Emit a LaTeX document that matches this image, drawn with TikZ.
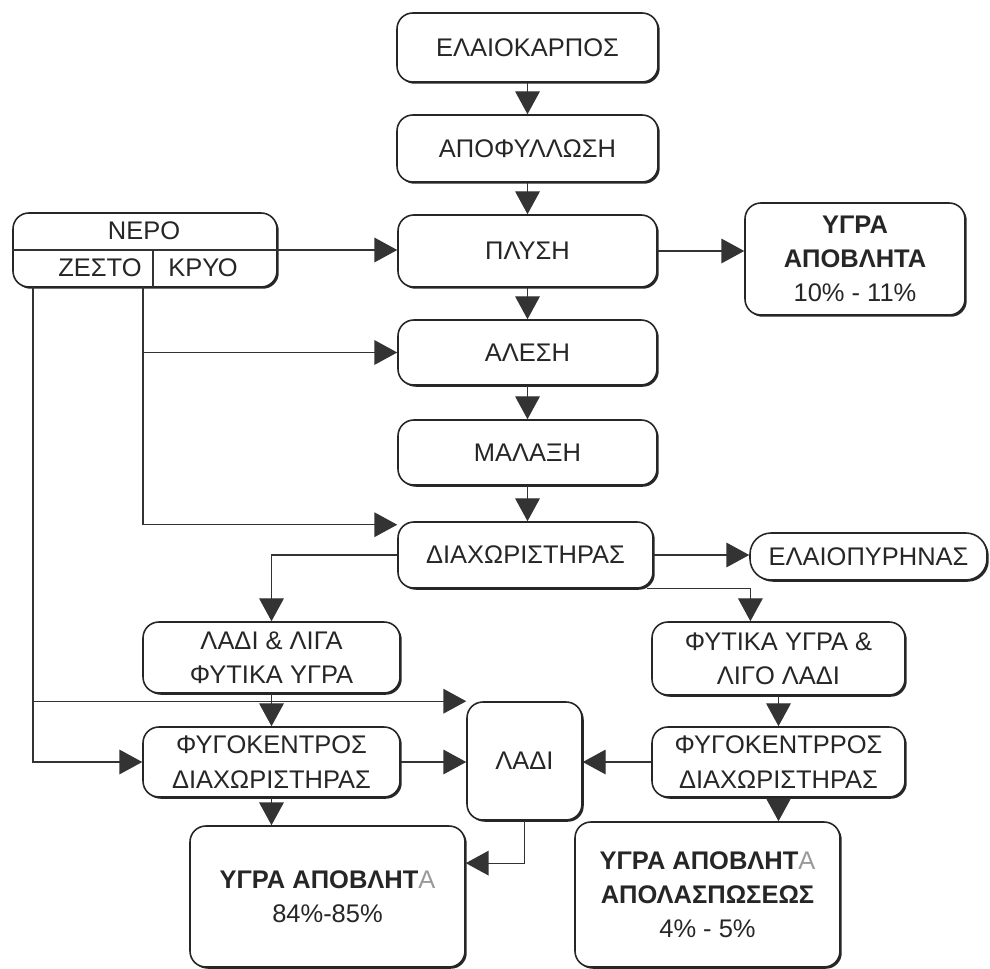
\documentclass[tikz,border=0pt]{standalone}
\usepackage{fontspec}
\setmainfont{Liberation Sans}
\usetikzlibrary{arrows.meta, shadows}

\begin{document}
\begin{tikzpicture}[x=0.02cm, y=-0.02cm,
  lbl/.style={font=\fontsize{14.5}{19.5}\selectfont, text=black!85},
  box/.style={lbl, draw=black!85, line width=0.9pt, rounded corners=9pt, fill=white, align=center,
    drop shadow={shadow xshift=1pt, shadow yshift=-1pt, opacity=1, fill=black!85}},
  arr/.style={draw=black!80, line width=0.7pt, -{Triangle[length=13pt, width=14pt]}},
  lnk/.style={draw=black!80, line width=0.7pt}]
\useasboundingbox (0,0) rectangle (990,969);
% Main line
\node[box, minimum width=5.22cm, minimum height=1.38cm] (elaio) at (527.5,47.5) {ΕΛΑΙΟΚΑΡΠΟΣ};
\node[box, minimum width=5.22cm, minimum height=1.34cm] (apof) at (527.5,148.5) {ΑΠΟΦΥΛΛΩΣΗ};
\node[box, minimum width=5.18cm, minimum height=1.44cm] (plysi) at (527.5,251) {ΠΛΥΣΗ};
\node[box, minimum width=4.4cm, minimum height=2.24cm] (ygra1) at (855,259) {\textbf{ΥΓΡΑ}\\\textbf{ΑΠΟΒΛΗΤΑ}\\10\% - 11\%};
\node[box, minimum width=5.18cm, minimum height=1.3cm] (alesi) at (527.5,352.5) {ΑΛΕΣΗ};
\node[box, minimum width=5.18cm, minimum height=1.3cm] (malaxi) at (527.5,452.5) {ΜΑΛΑΞΗ};
\node[box, minimum width=5.1cm, minimum height=1.32cm] (diax) at (525.5,555) {ΔΙΑΧΩΡΙΣΤΗΡΑΣ};
\node[box, minimum width=4.74cm, minimum height=0.94cm, rounded corners=12pt] (elaiop) at (868.5,556.5) {ΕΛΑΙΟΠΥΡΗΝΑΣ};
% Water
\node[box, minimum width=5.28cm, minimum height=1.48cm] (nero) at (145,250) {};
\node[lbl] (neroT) at (144,231) {ΝΕΡΟ};
\node[lbl] (zesto) at (100,268) {ΖΕΣΤΟ};
\node[lbl] (kryo) at (203,268) {ΚΡΥΟ};
\draw[lnk] (nero.west) -- (nero.east);
\draw[lnk] (153,250) -- (153,287);
\coordinate (hot) at (33,287);
\coordinate (cold) at (143,287);
% Two branches
\node[box, minimum width=5.14cm, minimum height=1.42cm] (ladiliga) at (271.5,657.5) {ΛΑΔΙ \& ΛΙΓΑ\\ΦΥΤΙΚΑ ΥΓΡΑ};
\node[box, minimum width=5.06cm, minimum height=1.46cm] (fytika) at (778.5,658.5) {ΦΥΤΙΚΑ ΥΓΡΑ \&\\ΛΙΓΟ ΛΑΔΙ};
\node[box, minimum width=5.14cm, minimum height=1.4cm] (fygoL) at (271.5,762) {ΦΥΓΟΚΕΝΤΡΟΣ\\ΔΙΑΧΩΡΙΣΤΗΡΑΣ};
\node[box, minimum width=2.3cm, minimum height=2.36cm] (ladi) at (524.5,761) {ΛΑΔΙ};
\node[box, minimum width=5.06cm, minimum height=1.4cm] (fygoR) at (778.5,762) {ΦΥΓΟΚΕΝΤΡΡΟΣ\\ΔΙΑΧΩΡΙΣΤΗΡΑΣ};
\node[box, minimum width=5.5cm, minimum height=2.82cm] (ygra2) at (327.5,896.5) {\textbf{ΥΓΡΑ ΑΠΟΒΛΗΤ}{\color{black!40}Α}\\84\%-85\%};
\node[box, minimum width=5.3cm, minimum height=2.9cm] (ygra3) at (707.5,894.5) {\textbf{ΥΓΡΑ ΑΠΟΒΛΗΤ}{\color{black!40}Α}\\\textbf{ΑΠΟΛΑΣΠΩΣΕΩΣ}\\4\% - 5\%};
% Arrows
\draw[arr] (elaio) -- (apof);
\draw[arr] (apof) -- (plysi);
\draw[arr] (plysi) -- (alesi);
\draw[arr] (alesi) -- (malaxi);
\draw[arr] (malaxi.south) -- (malaxi.south |- diax.north);
\draw[arr] (nero.east) -- (nero.east -| plysi.west);
\draw[arr] (plysi.east) -- (plysi.east -| ygra1.west);
\draw[arr] (cold) |- ([yshift=-2pt]diax.north west);
\draw[arr] (cold |- alesi.west) -- (alesi.west);
\draw[arr] (hot) |- (fygoL.west);
\draw[arr] (hot |- ladi.north west) -- (ladi.north west);
\draw[arr] (diax.east) -- (diax.east -| elaiop.west);
\draw[arr] (diax.west) -| (ladiliga.north);
\draw[arr] ([xshift=-4pt]diax.south east) -| ([xshift=-16pt]fytika.north);
\draw[arr] (ladiliga) -- (fygoL);
\draw[arr] (fytika) -- (fygoR);
\draw[arr] (fygoL.east) -- (fygoL.east -| ladi.west);
\draw[arr] (fygoR.west) -- (fygoR.west -| ladi.east);
\draw[arr] (fygoL.south) -- (fygoL.south |- ygra2.north);
\draw[arr] (fygoR.south) -- (fygoR.south |- ygra3.north);
\draw[arr] (ladi.south) |- ([yshift=19pt]ygra2.east);
\end{tikzpicture}
\end{document}
